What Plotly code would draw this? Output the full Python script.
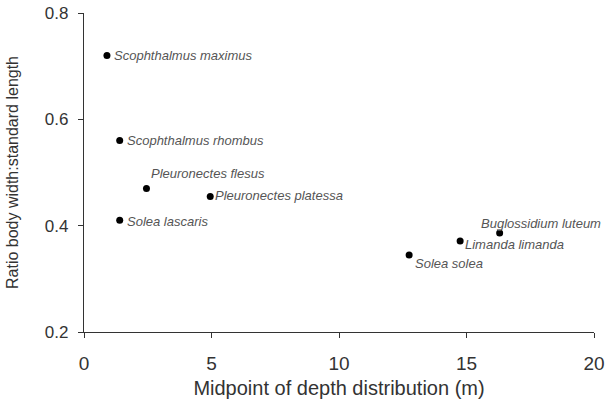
import plotly.graph_objects as go

species = ["Scophthalmus maximus", "Scophthalmus rhombus", "Pleuronectes flesus",
           "Pleuronectes platessa", "Solea lascaris", "Buglossidium luteum",
           "Limanda limanda", "Solea solea"]
depth = [0.9, 1.4, 2.45, 4.95, 1.4, 16.3, 14.75, 12.75]
ratio = [0.72, 0.56, 0.47, 0.455, 0.41, 0.386, 0.371, 0.345]
x_ticks = [0, 5, 10, 15, 20]
y_ticks = [0.2, 0.4, 0.6, 0.8]
# label offsets in pixels (dx, dy) relative to each point
label_dx = [5, 5, 3, 3, 5, -21, 3, 4]
label_dy = [0, 0, 15, 1, -1, 10, -3, -9]

FONT = "Liberation Sans, Arial, Helvetica"

fig = go.Figure()
fig.add_trace(go.Scatter(x=depth, y=ratio, mode="markers",
                         marker=dict(color="black", size=7), showlegend=False))

for s, x, y, dx, dy in zip(species, depth, ratio, label_dx, label_dy):
    fig.add_annotation(x=x, y=y, text="<i>%s</i>" % s, showarrow=False,
                       xanchor="left", yanchor="middle", xshift=dx, yshift=dy,
                       font=dict(family=FONT, size=13, color="#555"))

axis_common = dict(showline=True, linecolor="#333", linewidth=1.3, ticks="outside",
                   ticklen=5, tickcolor="#333", showgrid=False, zeroline=False,
                   automargin=False)

fig.update_xaxes(range=[0, 20], tickvals=x_ticks,
                 tickfont=dict(family=FONT, size=19, color="#333"),
                 title=dict(text="Midpoint of depth distribution (m)", standoff=8,
                            font=dict(family=FONT, size=20, color="#333")),
                 ticklabelstandoff=9, **axis_common)
fig.update_yaxes(range=[0.2, 0.8], tickvals=y_ticks, tickformat=".1f",
                 tickfont=dict(family=FONT, size=17, color="#333"),
                 title=dict(text="Ratio body width:standard length", standoff=22,
                            font=dict(family=FONT, size=16, color="#333")),
                 ticklabelstandoff=6, **axis_common)

fig.update_layout(width=613, height=406, margin=dict(l=84, r=19, t=13, b=74),
                  paper_bgcolor="white", plot_bgcolor="white")

fig.write_html("out.html")
